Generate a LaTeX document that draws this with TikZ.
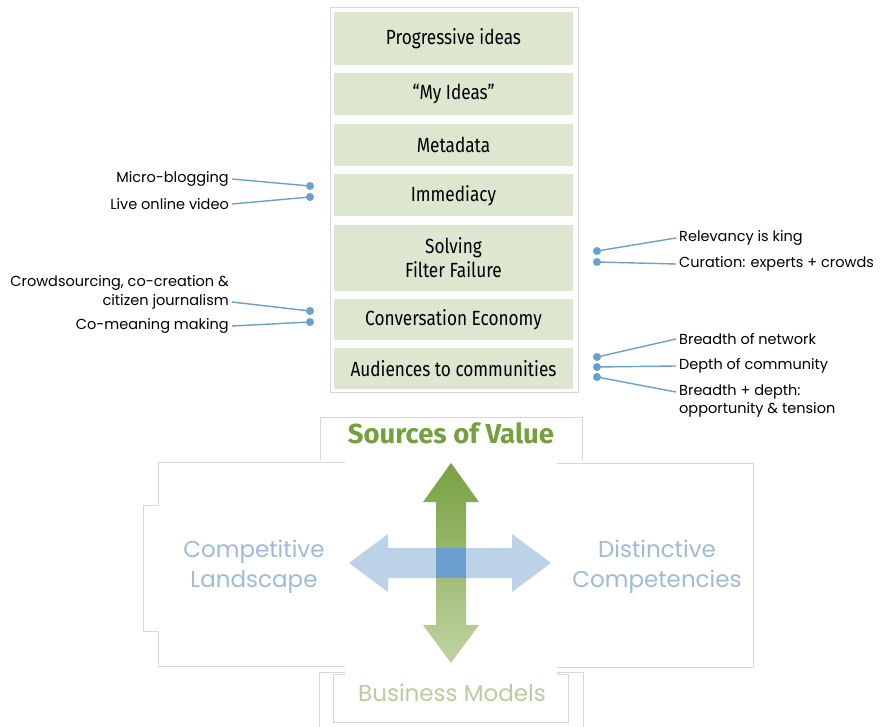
\documentclass[tikz,border=0pt]{standalone}
\usepackage{fontspec}
\setmainfont{Poppins}
\newfontfamily\condfont[FakeStretch=0.84]{Fira Sans}
\newfontfamily\headfont{Fira Sans}
\usetikzlibrary{positioning}

\definecolor{boxgreen}{RGB}{221,230,206}
\definecolor{framegray}{RGB}{215,215,215}
\definecolor{linkblue}{RGB}{104,160,207}
\definecolor{valuegreen}{RGB}{118,160,62}
\definecolor{paleblue}{RGB}{157,187,216}
\definecolor{palegreen}{RGB}{183,205,154}
\definecolor{arrowblue}{RGB}{185,208,230}
\definecolor{centerblue}{RGB}{106,160,208}
\definecolor{arrowtop}{RGB}{120,160,64}
\definecolor{arrowbottom}{RGB}{192,212,162}

\tikzstyle{idea} = [
  fill=boxgreen,
  minimum width=239pt,
  inner sep=0pt,
  align=center,
  font=\condfont\fontsize{20.5}{24}\selectfont,
]
\tikzstyle{dot} = [circle, fill=linkblue, inner sep=0pt, minimum size=8pt]
\tikzstyle{link} = [linkblue, line width=1.4pt]
\tikzstyle{note} = [inner sep=3pt, font=\fontsize{14.5}{18.5}\selectfont]
\tikzstyle{frame} = [draw=framegray, line width=0.9pt]
\tikzstyle{quarter} = [align=center, font=\fontsize{23}{30}\selectfont]

\begin{document}
\begin{tikzpicture}[x=1pt, y=-1pt, node distance=8pt]
    \useasboundingbox (0,0) rectangle (884,727);

    % the stack of ideas
    \draw[frame] (330,7) rectangle (578,392);
    \node[idea,minimum height=53pt] (progressive) at (453.5,38.5) {Progressive ideas};
    \node[idea,minimum height=42pt] (myideas)    [below=of progressive] {“My Ideas”};
    \node[idea,minimum height=42pt] (metadata)   [below=of myideas]     {Metadata};
    \node[idea,minimum height=42pt] (immediacy)  [below=of metadata]    {Immediacy};
    \node[idea,minimum height=66pt] (filter)     [below=of immediacy]   {Solving\\Filter Failure};
    \node[idea,minimum height=41pt] (conversation) [below=of filter]    {Conversation Economy};
    \node[idea,minimum height=41pt] (audiences)  [below=of conversation] {Audiences to communities};

    % notes on the left
    \node[note,anchor=east] (micro) at (232,179) {Micro-blogging};
    \node[note,anchor=east] (live)  at (232,204) {Live online video};
    \node[note,anchor=east,align=right] (crowd) at (232,292.5) {Crowdsourcing, co-creation \&\\citizen journalism};
    \node[note,anchor=east] (comeaning) at (232,326) {Co-meaning making};

    \coordinate (dmicro) at (310,186);
    \coordinate (dlive)  at (310,197);
    \coordinate (dcrowd) at (310,311);
    \coordinate (dcomeaning) at (310,322);

    \draw[link] (micro.east) -- (dmicro);
    \draw[link] (live.east) -- (dlive);
    \draw[link] ([yshift=-9.5pt]crowd.east) -- (dcrowd);
    \draw[link] (comeaning.east) -- (dcomeaning);

    % notes on the right
    \node[note,anchor=west] (relevancy) at (676,238) {Relevancy is king};
    \node[note,anchor=west] (curation)  at (676,264) {Curation: experts + crowds};
    \node[note,anchor=west] (breadth)   at (676,339) {Breadth of network};
    \node[note,anchor=west] (depth)     at (676,366) {Depth of community};
    \node[note,anchor=west,align=left] (both) at (676,401) {Breadth + depth:\\opportunity \& tension};

    \coordinate (drelevancy) at (597,251);
    \coordinate (dcuration)  at (597,262);
    \coordinate (dbreadth)   at (597,357);
    \coordinate (ddepth)     at (597,367);
    \coordinate (dboth)      at (597,377);

    \draw[link] (relevancy.west) -- (drelevancy);
    \draw[link] (curation.west) -- (dcuration);
    \draw[link] (breadth.west) -- (dbreadth);
    \draw[link] (depth.west) -- (ddepth);
    \draw[link] ([yshift=9pt]both.west) -- (dboth);

    \foreach \d in {dmicro,dlive,dcrowd,dcomeaning,drelevancy,dcuration,dbreadth,ddepth,dboth}
        \node[dot] at (\d) {};

    % the four quarters
    \draw[frame] (320,460) -- (320,417) -- (582,417) -- (582,460);
    \draw[frame] (345,462) -- (158,462) -- (158,505) -- (143,505) -- (143,631)
        -- (158,631) -- (158,666) -- (345,666);
    \draw[frame] (557,463) -- (753,463) -- (753,667) -- (557,667);
    \draw[frame] (319,740) -- (319,672) -- (583,672) -- (583,740);
    \draw[frame] (333,674) rectangle (568,722);
    \fill[white] (345,460) rectangle (557,676);

    % the cross of arrows
    \shade[top color=arrowtop, bottom color=arrowbottom]
        (451,463) -- (479,502) -- (466,502) -- (466,625) -- (479,625) -- (451,663)
        -- (423,625) -- (436,625) -- (436,502) -- (423,502) -- cycle;
    \fill[arrowblue, opacity=0.95]
        (349,563) -- (388,534) -- (388,548) -- (512,548) -- (512,534) -- (551,563)
        -- (512,592) -- (512,578) -- (388,578) -- (388,592) -- cycle;
    \fill[centerblue] (436,548) rectangle (466,578);

    \node[font=\headfont\bfseries\fontsize{27.5}{30}\selectfont, text=valuegreen] (sources) at (451,433) {Sources of Value};
    \node[quarter, text=paleblue] (landscape) at (254,567) {Competitive\\Landscape};
    \node[quarter, text=paleblue] (competencies) at (657,567) {Distinctive\\Competencies};
    \node[quarter, text=palegreen] (business) at (452,693) {Business Models};
\end{tikzpicture}
\end{document}
